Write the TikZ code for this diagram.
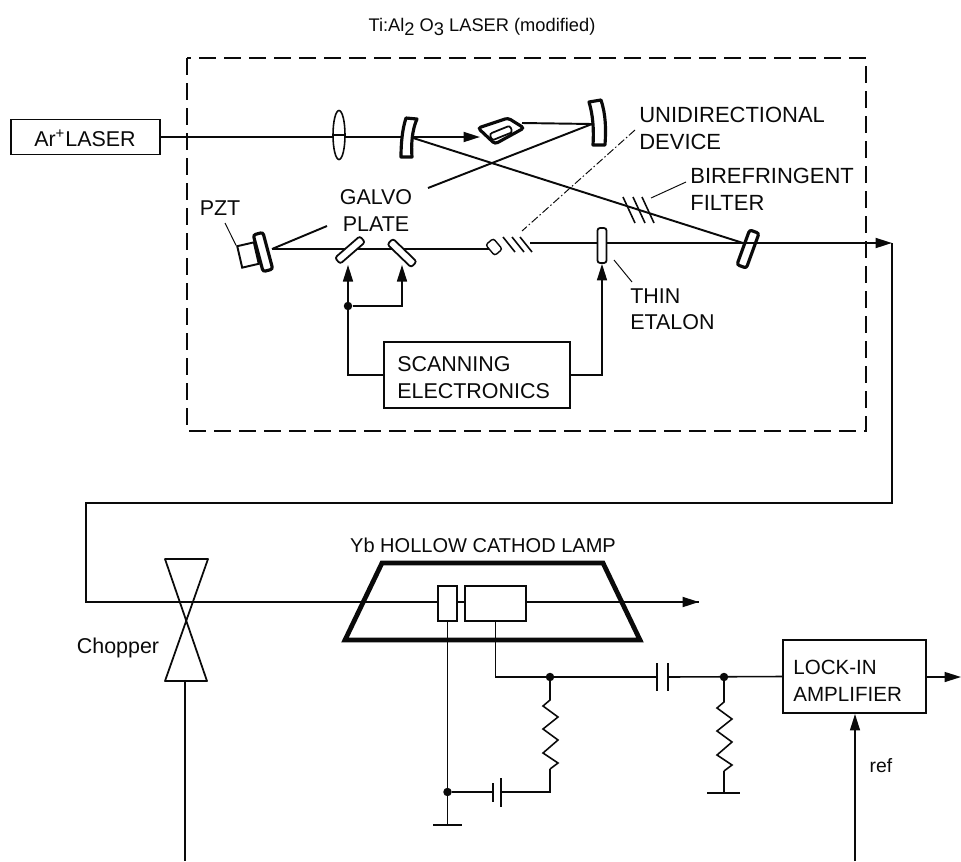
\documentclass[tikz,border=0pt]{standalone}
\usepackage{fontspec}
\setmainfont{Liberation Sans}
\usepackage{xcolor}
\usetikzlibrary{arrows.meta, positioning, shapes.geometric, calc}
\definecolor{inkblack}{RGB}{10, 10, 10}
\tikzset{
  beam/.style={inkblack, line width=1.1pt},
  wire/.style={inkblack, line width=0.9pt},
  leader/.style={inkblack, line width=0.55pt},
  tipped/.style={-{Triangle[length=3.3mm, width=2mm]}},
  labeltext/.style={inkblack, font=\fontsize{12.2}{15.3}\selectfont, inner sep=0pt},
  stackedtext/.style={labeltext, align=left},
  widetext/.style={stackedtext, font=\fontsize{12.5}{15.3}\selectfont},
  boxed/.style={draw=inkblack, line width=1.1pt, inner sep=0pt, fill=white},
  plate/.style={draw=inkblack, fill=white, inner sep=0pt, line width=1pt, rounded corners=0.5mm},
  heavyplate/.style={plate, line width=1.8pt},
  dot/.style={circle, fill=inkblack, inner sep=0pt, minimum size=1.7mm},
}
\begin{document}
\begin{tikzpicture}[x=0.2mm, y=-0.2mm]
  \useasboundingbox (0,0) rectangle (961,861);
  % Laser housing
  \draw[inkblack, line width=1.2pt, dash pattern=on 3.4mm off 1.6mm] (187,58) rectangle (866,431);
  \node[labeltext, font=\fontsize{10.4}{12}\selectfont] (title) at (482,27) {Ti:Al\raisebox{-2pt}{2} O\raisebox{-2pt}{3} LASER (modified)};
  % Pump laser
  \node[boxed, minimum width=29.8mm, minimum height=7mm] (arlaser) at (85.5,137) {};
  \node[labeltext] (arlabel) at (85,138) {Ar\textsuperscript{+}LASER};
  % Beam anchors
  \coordinate (mone) at (410,137);
  \coordinate (mtwo) at (592,124);
  \coordinate (mthree) at (743,243);
  \coordinate (mpzt) at (272,249);
  \coordinate (devin) at (480,137);
  \coordinate (devout) at (522,123);
  \coordinate (gapa) at (428,188);
  \coordinate (gapb) at (327,226);
  \coordinate (smallin) at (488,250);
  \coordinate (smallout) at (530,243);
  \coordinate (corner) at (892,243);
  % Beams in the cavity
  \draw[beam] (arlaser.east) -- (mone);
  \draw[beam, tipped] (mone) -- (devin);
  \draw[beam] (devout) -- (mtwo);
  \draw[beam] (mone) -- (mthree);
  \draw[beam] (mtwo) -- (gapa);
  \draw[beam] (gapb) -- (mpzt);
  \draw[beam] (mpzt) -- (smallin |- mpzt) -- (smallin);
  \draw[beam] (smallout) -- (mthree);
  % Lens
  \node[draw=inkblack, ellipse, fill=white, line width=0.9pt, inner sep=0pt,
    minimum width=2.4mm, minimum height=9.8mm] (lens) at (339,135) {};
  \draw[beam] (lens.west) -- (lens.east);
  % Curved mirrors
  \draw[heavyplate, rounded corners=0pt, line join=round]
    (406,118) -- (417,119) .. controls (412,130) and (411,145) .. (412,157) -- (401,157)
    .. controls (401,145) and (402,130) .. (406,118) -- cycle;
  \draw[heavyplate, rounded corners=0pt, line join=round]
    (589,102) -- (601,100) .. controls (606,115) and (606,130) .. (605,145) -- (593,145)
    .. controls (594,130) and (593,115) .. (589,102) -- cycle;
  % Unidirectional device
  \draw[heavyplate, rounded corners=0.6mm] (478,128) -- (508,118) -- (524,128) -- (495,144) -- cycle;
  \node[plate, rotate=22, minimum width=4.4mm, minimum height=1.4mm] (faraday) at (501,133) {};
  % Output coupler and etalon
  \node[heavyplate, rotate=-20, minimum width=2mm, minimum height=7.4mm] (mirrorout) at (748,249) {};
  \node[plate, minimum width=1.8mm, minimum height=7mm] (etalon) at (602,245.5) {};
  % PZT mirror
  \node[boxed, rotate=13, minimum width=3.4mm, minimum height=4.4mm] (pztblock) at (248,255) {};
  \node[heavyplate, rotate=15, minimum width=2mm, minimum height=7.6mm] (pztmirror) at (263,252) {};
  \node[labeltext] (pzt) at (220,208) {PZT};
  \draw[leader] (225,223) -- (pztblock.north west);
  % Galvo plates
  \node[plate, rotate=-49, minimum width=1.6mm, minimum height=6.6mm] (galvoa) at (350,250) {};
  \node[plate, rotate=46, minimum width=1.6mm, minimum height=6.6mm] (galvob) at (402,253) {};
  \node[stackedtext, align=center] (galvo) at (376,210.5) {GALVO\\PLATE};
  % Small prism
  \node[plate, rotate=40, minimum width=2mm, minimum height=2.8mm, line width=0.8pt] (prism) at (494,247) {};
  \foreach \hx in {503,512,520}
    \draw[wire] (\hx,237) -- ++(12,15);
  % Birefringent filter
  \foreach \hx in {623,633,642}
    \draw[wire] (\hx,197) -- ++(12,26);
  % Labels
  \node[widetext, anchor=north west] (unidir) at (639,107) {UNIDIRECTIONAL\\DEVICE};
  \node[widetext, anchor=north west] (biref) at (690,168) {BIREFRINGENT\\FILTER};
  \node[stackedtext, anchor=north west] (thin) at (630,288) {THIN\\ETALON};
  \draw[leader, dash pattern=on 1.6mm off 0.5mm on 0.3mm off 0.5mm] (635,130) -- (522,231);
  \draw[leader] (686,182) -- (651,198);
  \draw[leader] (614,260) -- (632,282);
  % Scanning electronics
  \node[boxed, minimum width=37.2mm, minimum height=13.2mm] (scan) at (477,375) {};
  \node[stackedtext, anchor=west] (scantext) at (397,377.5) {SCANNING\\ELECTRONICS};
  \node[dot] (jscan) at (348,306) {};
  \coordinate (tipa) at (348,265);
  \coordinate (tipb) at (402,265);
  \draw[wire, tipped] (scan.west) -| (tipa);
  \draw[wire, tipped] (jscan) -| (tipb);
  \draw[wire, tipped] (scan.east) -| (etalon.south);
  % Beam to the lamp
  \coordinate (turnb) at (892,503);
  \coordinate (turnc) at (86,503);
  \coordinate (turnd) at (86,602);
  \coordinate (beamend) at (699,602);
  \draw[beam, tipped] (mthree) -- (corner);
  \draw[beam, line join=miter] (corner) -- (turnb) -- (turnc) -- (turnd) -- (beamend);
  \draw[beam, tipped] (turnd) -- (beamend);
  % Chopper
  \draw[inkblack, line width=1pt, line join=round] (165,559) -- (208,559) -- (165,681) -- (207,681) -- cycle;
  \coordinate (chopfoot) at (185,681);
  \coordinate (chopend) at (185,861);
  \draw[wire] (chopfoot) -- (chopend);
  \node[labeltext] (chopper) at (118,648) {Chopper};
  % Hollow cathode lamp
  \draw[inkblack, line width=2.7pt, line join=miter] (382,563) -- (603,563) -- (640,640) -- (345,640) -- cycle;
  \node[labeltext, font=\fontsize{11.4}{14}\selectfont] (lamp) at (483,545) {Yb HOLLOW CATHOD LAMP};
  \node[boxed, line width=0.9pt, minimum width=3.8mm, minimum height=7mm] (cathode) at (447.5,603.5) {};
  \node[boxed, line width=0.9pt, minimum width=12.2mm, minimum height=7mm] (anode) at (495.5,603.5) {};
  % Cathode side
  \node[dot] (jgnd) at (447.5,792) {};
  \coordinate (gndone) at (447.5,825);
  \coordinate (capa) at (493,792);
  \coordinate (capb) at (501,792);
  \draw[wire] (cathode.south) -- (gndone);
  \draw[wire] (jgnd) -- (capa);
  \draw[inkblack, line width=1.1pt] (433,825) -- (462,825);
  \draw[inkblack, line width=1.1pt] (493,783) -- (493,802);
  \draw[inkblack, line width=1.4pt] (501,778) -- (501,807);
  % Anode side
  \node[dot] (jone) at (550,677) {};
  \node[dot] (jtwo) at (724,677) {};
  \node[boxed, minimum width=28.6mm, minimum height=14.6mm] (lockin) at (854.5,676.5) {};
  \node[stackedtext, anchor=west, font=\fontsize{11.7}{15.3}\selectfont] (locktext) at (793,681) {LOCK-IN\\AMPLIFIER};
  \coordinate (capc) at (657,677);
  \coordinate (capd) at (668,677);
  \coordinate (outend) at (961,677);
  \coordinate (refstart) at (855,861);
  \draw[wire] (anode.south) |- (capc);
  \draw[wire] (capd) -- (lockin.west);
  \draw[inkblack, line width=1.1pt] (657,663) -- (657,691);
  \draw[inkblack, line width=1.4pt] (668,663) -- (668,691);
  \draw[wire, tipped] (lockin.east |- outend) -- (outend);
  \draw[wire, tipped] (refstart) -- (lockin.south -| refstart);
  \node[labeltext, font=\fontsize{11}{13}\selectfont] (ref) at (881,766) {ref};
  % Resistors
  \foreach \rx/\ry in {550/700, 724/702}
    \draw[wire, line join=miter] (\rx,\ry-25) -- (\rx,\ry) -- ++(-7,6) -- ++(15,11) -- ++(-15,12) -- ++(15,11)
      -- ++(-15,13) -- ++(15,10) -- ++(-8,6);
  \coordinate (rone) at (550,769);
  \coordinate (rtwo) at (724,771);
  \coordinate (gndtwo) at (724,793);
  \draw[wire] (rone) |- (capb);
  \draw[wire] (rtwo) -- (gndtwo);
  \draw[inkblack, line width=1.1pt] (707,793) -- (740,793);
\end{tikzpicture}
\end{document}
